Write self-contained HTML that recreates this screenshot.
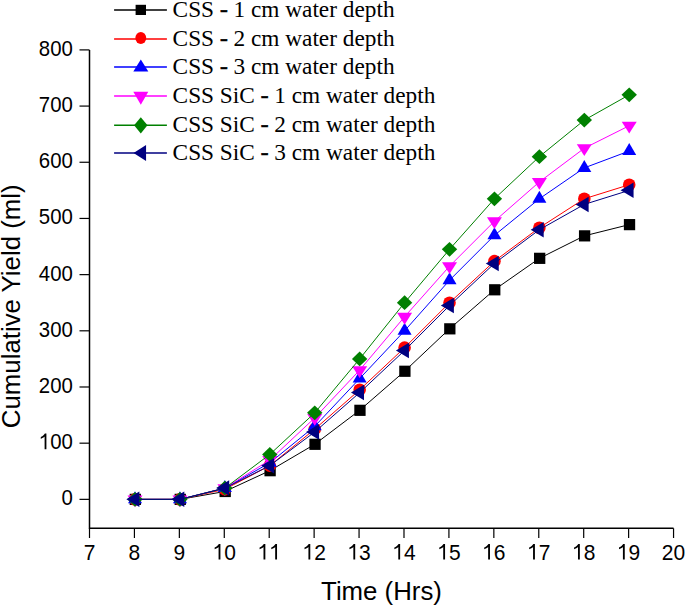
<!DOCTYPE html>
<html><head><meta charset="utf-8"><style>
html,body{margin:0;padding:0;background:#fff;width:685px;height:606px;overflow:hidden}
svg{display:block}
.t{font-family:"Liberation Sans",sans-serif;font-size:21px;fill:#000}
.ti{font-family:"Liberation Sans",sans-serif;font-size:25.8px;fill:#000}
.hy{stroke:#000;stroke-width:0.7px}
.lg{font-family:"Liberation Serif",serif;font-size:23.3px;fill:#000}
</style></head><body>
<svg width="685" height="606" viewBox="0 0 685 606">
<path d="M89.5,49.9 V528.3 H673.55" fill="none" stroke="#000" stroke-width="1.5"/>
<line x1="79.5" y1="499.36" x2="89.5" y2="499.36" stroke="#000" stroke-width="1.2"/>
<text transform="translate(61.47,505.36) scale(0.97,1.08)" class="t">0</text>
<line x1="79.5" y1="443.18" x2="89.5" y2="443.18" stroke="#000" stroke-width="1.2"/>
<path transform="translate(38.81,449.18) scale(0.00995,-0.01107)" d="M763,0 L583,0 L583,1147 Q518,1085 412,1023 Q306,961 200,925 L200,1100 Q363,1170 468,1262 Q573,1354 610,1409 L763,1409 Z"/><text transform="translate(50.14,449.18) scale(0.97,1.08)" class="t">0</text><text transform="translate(61.47,449.18) scale(0.97,1.08)" class="t">0</text>
<line x1="79.5" y1="386.99" x2="89.5" y2="386.99" stroke="#000" stroke-width="1.2"/>
<text transform="translate(38.81,392.99) scale(0.97,1.08)" class="t">2</text><text transform="translate(50.14,392.99) scale(0.97,1.08)" class="t">0</text><text transform="translate(61.47,392.99) scale(0.97,1.08)" class="t">0</text>
<line x1="79.5" y1="330.81" x2="89.5" y2="330.81" stroke="#000" stroke-width="1.2"/>
<text transform="translate(38.81,336.81) scale(0.97,1.08)" class="t">3</text><text transform="translate(50.14,336.81) scale(0.97,1.08)" class="t">0</text><text transform="translate(61.47,336.81) scale(0.97,1.08)" class="t">0</text>
<line x1="79.5" y1="274.63" x2="89.5" y2="274.63" stroke="#000" stroke-width="1.2"/>
<text transform="translate(38.81,280.63) scale(0.97,1.08)" class="t">4</text><text transform="translate(50.14,280.63) scale(0.97,1.08)" class="t">0</text><text transform="translate(61.47,280.63) scale(0.97,1.08)" class="t">0</text>
<line x1="79.5" y1="218.44" x2="89.5" y2="218.44" stroke="#000" stroke-width="1.2"/>
<text transform="translate(38.81,224.44) scale(0.97,1.08)" class="t">5</text><text transform="translate(50.14,224.44) scale(0.97,1.08)" class="t">0</text><text transform="translate(61.47,224.44) scale(0.97,1.08)" class="t">0</text>
<line x1="79.5" y1="162.26" x2="89.5" y2="162.26" stroke="#000" stroke-width="1.2"/>
<text transform="translate(38.81,168.26) scale(0.97,1.08)" class="t">6</text><text transform="translate(50.14,168.26) scale(0.97,1.08)" class="t">0</text><text transform="translate(61.47,168.26) scale(0.97,1.08)" class="t">0</text>
<line x1="79.5" y1="106.08" x2="89.5" y2="106.08" stroke="#000" stroke-width="1.2"/>
<text transform="translate(38.81,112.08) scale(0.97,1.08)" class="t">7</text><text transform="translate(50.14,112.08) scale(0.97,1.08)" class="t">0</text><text transform="translate(61.47,112.08) scale(0.97,1.08)" class="t">0</text>
<line x1="79.5" y1="49.90" x2="89.5" y2="49.90" stroke="#000" stroke-width="1.2"/>
<text transform="translate(38.81,55.90) scale(0.97,1.08)" class="t">8</text><text transform="translate(50.14,55.90) scale(0.97,1.08)" class="t">0</text><text transform="translate(61.47,55.90) scale(0.97,1.08)" class="t">0</text>
<line x1="89.50" y1="528.3" x2="89.50" y2="538" stroke="#000" stroke-width="1.2"/>
<text transform="translate(83.66,559.60) scale(1.0,1.08)" class="t">7</text>
<line x1="134.43" y1="528.3" x2="134.43" y2="538" stroke="#000" stroke-width="1.2"/>
<text transform="translate(128.59,559.60) scale(1.0,1.08)" class="t">8</text>
<line x1="179.35" y1="528.3" x2="179.35" y2="538" stroke="#000" stroke-width="1.2"/>
<text transform="translate(173.51,559.60) scale(1.0,1.08)" class="t">9</text>
<line x1="224.28" y1="528.3" x2="224.28" y2="538" stroke="#000" stroke-width="1.2"/>
<path transform="translate(212.60,559.60) scale(0.01025,-0.01107)" d="M763,0 L583,0 L583,1147 Q518,1085 412,1023 Q306,961 200,925 L200,1100 Q363,1170 468,1262 Q573,1354 610,1409 L763,1409 Z"/><text transform="translate(224.28,559.60) scale(1.0,1.08)" class="t">0</text>
<line x1="269.21" y1="528.3" x2="269.21" y2="538" stroke="#000" stroke-width="1.2"/>
<path transform="translate(257.53,559.60) scale(0.01025,-0.01107)" d="M763,0 L583,0 L583,1147 Q518,1085 412,1023 Q306,961 200,925 L200,1100 Q363,1170 468,1262 Q573,1354 610,1409 L763,1409 Z"/><path transform="translate(269.21,559.60) scale(0.01025,-0.01107)" d="M763,0 L583,0 L583,1147 Q518,1085 412,1023 Q306,961 200,925 L200,1100 Q363,1170 468,1262 Q573,1354 610,1409 L763,1409 Z"/>
<line x1="314.13" y1="528.3" x2="314.13" y2="538" stroke="#000" stroke-width="1.2"/>
<path transform="translate(302.46,559.60) scale(0.01025,-0.01107)" d="M763,0 L583,0 L583,1147 Q518,1085 412,1023 Q306,961 200,925 L200,1100 Q363,1170 468,1262 Q573,1354 610,1409 L763,1409 Z"/><text transform="translate(314.13,559.60) scale(1.0,1.08)" class="t">2</text>
<line x1="359.06" y1="528.3" x2="359.06" y2="538" stroke="#000" stroke-width="1.2"/>
<path transform="translate(347.38,559.60) scale(0.01025,-0.01107)" d="M763,0 L583,0 L583,1147 Q518,1085 412,1023 Q306,961 200,925 L200,1100 Q363,1170 468,1262 Q573,1354 610,1409 L763,1409 Z"/><text transform="translate(359.06,559.60) scale(1.0,1.08)" class="t">3</text>
<line x1="403.99" y1="528.3" x2="403.99" y2="538" stroke="#000" stroke-width="1.2"/>
<path transform="translate(392.31,559.60) scale(0.01025,-0.01107)" d="M763,0 L583,0 L583,1147 Q518,1085 412,1023 Q306,961 200,925 L200,1100 Q363,1170 468,1262 Q573,1354 610,1409 L763,1409 Z"/><text transform="translate(403.99,559.60) scale(1.0,1.08)" class="t">4</text>
<line x1="448.92" y1="528.3" x2="448.92" y2="538" stroke="#000" stroke-width="1.2"/>
<path transform="translate(437.24,559.60) scale(0.01025,-0.01107)" d="M763,0 L583,0 L583,1147 Q518,1085 412,1023 Q306,961 200,925 L200,1100 Q363,1170 468,1262 Q573,1354 610,1409 L763,1409 Z"/><text transform="translate(448.92,559.60) scale(1.0,1.08)" class="t">5</text>
<line x1="493.84" y1="528.3" x2="493.84" y2="538" stroke="#000" stroke-width="1.2"/>
<path transform="translate(482.16,559.60) scale(0.01025,-0.01107)" d="M763,0 L583,0 L583,1147 Q518,1085 412,1023 Q306,961 200,925 L200,1100 Q363,1170 468,1262 Q573,1354 610,1409 L763,1409 Z"/><text transform="translate(493.84,559.60) scale(1.0,1.08)" class="t">6</text>
<line x1="538.77" y1="528.3" x2="538.77" y2="538" stroke="#000" stroke-width="1.2"/>
<path transform="translate(527.09,559.60) scale(0.01025,-0.01107)" d="M763,0 L583,0 L583,1147 Q518,1085 412,1023 Q306,961 200,925 L200,1100 Q363,1170 468,1262 Q573,1354 610,1409 L763,1409 Z"/><text transform="translate(538.77,559.60) scale(1.0,1.08)" class="t">7</text>
<line x1="583.70" y1="528.3" x2="583.70" y2="538" stroke="#000" stroke-width="1.2"/>
<path transform="translate(572.02,559.60) scale(0.01025,-0.01107)" d="M763,0 L583,0 L583,1147 Q518,1085 412,1023 Q306,961 200,925 L200,1100 Q363,1170 468,1262 Q573,1354 610,1409 L763,1409 Z"/><text transform="translate(583.70,559.60) scale(1.0,1.08)" class="t">8</text>
<line x1="628.62" y1="528.3" x2="628.62" y2="538" stroke="#000" stroke-width="1.2"/>
<path transform="translate(616.94,559.60) scale(0.01025,-0.01107)" d="M763,0 L583,0 L583,1147 Q518,1085 412,1023 Q306,961 200,925 L200,1100 Q363,1170 468,1262 Q573,1354 610,1409 L763,1409 Z"/><text transform="translate(628.62,559.60) scale(1.0,1.08)" class="t">9</text>
<line x1="673.55" y1="528.3" x2="673.55" y2="538" stroke="#000" stroke-width="1.2"/>
<text transform="translate(661.87,559.60) scale(1.0,1.08)" class="t">2</text><text transform="translate(673.55,559.60) scale(1.0,1.08)" class="t">0</text>
<text x="381.5" y="600" text-anchor="middle" class="ti">Time (Hrs)</text>
<text transform="translate(19.8,306.3) rotate(-90)" text-anchor="middle" class="ti">Cumulative Yield (ml)</text>
<polyline points="135.03,499.36 179.95,499.36 224.88,491.49 269.81,470.71 314.74,444.30 359.66,410.31 404.59,371.26 449.52,328.84 494.44,289.80 539.37,258.33 584.30,235.86 629.22,224.63" fill="none" stroke="#000000" stroke-width="1.0"/>
<rect x="129.68" y="493.76" width="11.3" height="11.2" fill="#000000"/>
<rect x="174.60" y="493.76" width="11.3" height="11.2" fill="#000000"/>
<rect x="219.53" y="485.89" width="11.3" height="11.2" fill="#000000"/>
<rect x="264.46" y="465.11" width="11.3" height="11.2" fill="#000000"/>
<rect x="309.39" y="438.70" width="11.3" height="11.2" fill="#000000"/>
<rect x="354.31" y="404.71" width="11.3" height="11.2" fill="#000000"/>
<rect x="399.24" y="365.66" width="11.3" height="11.2" fill="#000000"/>
<rect x="444.17" y="323.24" width="11.3" height="11.2" fill="#000000"/>
<rect x="489.09" y="284.20" width="11.3" height="11.2" fill="#000000"/>
<rect x="534.02" y="252.73" width="11.3" height="11.2" fill="#000000"/>
<rect x="578.95" y="230.26" width="11.3" height="11.2" fill="#000000"/>
<rect x="623.87" y="219.03" width="11.3" height="11.2" fill="#000000"/>
<polyline points="135.03,499.36 179.95,499.36 224.88,489.25 269.81,465.65 314.74,429.13 359.66,389.80 404.59,347.67 449.52,302.72 494.44,261.14 539.37,227.72 584.30,198.78 629.22,184.74" fill="none" stroke="#ff0000" stroke-width="1.0"/>
<ellipse cx="135.03" cy="499.36" rx="6.3" ry="6.3" fill="#ff0000"/>
<ellipse cx="179.95" cy="499.36" rx="6.3" ry="6.3" fill="#ff0000"/>
<ellipse cx="224.88" cy="489.25" rx="6.3" ry="6.3" fill="#ff0000"/>
<ellipse cx="269.81" cy="465.65" rx="6.3" ry="6.3" fill="#ff0000"/>
<ellipse cx="314.74" cy="429.13" rx="6.3" ry="6.3" fill="#ff0000"/>
<ellipse cx="359.66" cy="389.80" rx="6.3" ry="6.3" fill="#ff0000"/>
<ellipse cx="404.59" cy="347.67" rx="6.3" ry="6.3" fill="#ff0000"/>
<ellipse cx="449.52" cy="302.72" rx="6.3" ry="6.3" fill="#ff0000"/>
<ellipse cx="494.44" cy="261.14" rx="6.3" ry="6.3" fill="#ff0000"/>
<ellipse cx="539.37" cy="227.72" rx="6.3" ry="6.3" fill="#ff0000"/>
<ellipse cx="584.30" cy="198.78" rx="6.3" ry="6.3" fill="#ff0000"/>
<ellipse cx="629.22" cy="184.74" rx="6.3" ry="6.3" fill="#ff0000"/>
<polyline points="135.03,499.36 179.95,499.36 224.88,488.12 269.81,462.84 314.74,426.32 359.66,378.57 404.59,330.81 449.52,280.25 494.44,235.30 539.37,198.78 584.30,167.88 629.22,151.03" fill="none" stroke="#0000ff" stroke-width="1.0"/>
<polygon points="135.03,491.36 142.03,503.36 128.03,503.36" fill="#0000ff"/>
<polygon points="179.95,491.36 186.95,503.36 172.95,503.36" fill="#0000ff"/>
<polygon points="224.88,480.12 231.88,492.12 217.88,492.12" fill="#0000ff"/>
<polygon points="269.81,454.84 276.81,466.84 262.81,466.84" fill="#0000ff"/>
<polygon points="314.74,418.32 321.74,430.32 307.74,430.32" fill="#0000ff"/>
<polygon points="359.66,370.57 366.66,382.57 352.66,382.57" fill="#0000ff"/>
<polygon points="404.59,322.81 411.59,334.81 397.59,334.81" fill="#0000ff"/>
<polygon points="449.52,272.25 456.52,284.25 442.52,284.25" fill="#0000ff"/>
<polygon points="494.44,227.30 501.44,239.30 487.44,239.30" fill="#0000ff"/>
<polygon points="539.37,190.78 546.37,202.78 532.37,202.78" fill="#0000ff"/>
<polygon points="584.30,159.88 591.30,171.88 577.30,171.88" fill="#0000ff"/>
<polygon points="629.22,143.03 636.22,155.03 622.22,155.03" fill="#0000ff"/>
<polyline points="135.03,499.36 179.95,499.36 224.88,488.12 269.81,460.03 314.74,417.89 359.66,370.14 404.59,316.77 449.52,266.20 494.44,221.25 539.37,181.93 584.30,148.22 629.22,125.74" fill="none" stroke="#ff00ff" stroke-width="1.0"/>
<polygon points="127.53,495.43 142.53,495.43 135.03,507.23" fill="#ff00ff"/>
<polygon points="172.45,495.43 187.45,495.43 179.95,507.23" fill="#ff00ff"/>
<polygon points="217.38,484.19 232.38,484.19 224.88,495.99" fill="#ff00ff"/>
<polygon points="262.31,456.10 277.31,456.10 269.81,467.90" fill="#ff00ff"/>
<polygon points="307.24,413.96 322.24,413.96 314.74,425.76" fill="#ff00ff"/>
<polygon points="352.16,366.21 367.16,366.21 359.66,378.01" fill="#ff00ff"/>
<polygon points="397.09,312.83 412.09,312.83 404.59,324.63" fill="#ff00ff"/>
<polygon points="442.02,262.27 457.02,262.27 449.52,274.07" fill="#ff00ff"/>
<polygon points="486.94,217.32 501.94,217.32 494.44,229.12" fill="#ff00ff"/>
<polygon points="531.87,177.99 546.87,177.99 539.37,189.79" fill="#ff00ff"/>
<polygon points="576.80,144.28 591.80,144.28 584.30,156.08" fill="#ff00ff"/>
<polygon points="621.72,121.81 636.72,121.81 629.22,133.61" fill="#ff00ff"/>
<polyline points="135.03,499.36 179.95,499.36 224.88,488.12 269.81,454.41 314.74,412.84 359.66,358.90 404.59,302.72 449.52,249.35 494.44,198.78 539.37,156.64 584.30,120.12 629.22,94.84" fill="none" stroke="#008000" stroke-width="1.0"/>
<polygon points="135.03,491.96 142.73,499.36 135.03,506.76 127.33,499.36" fill="#008000"/>
<polygon points="179.95,491.96 187.65,499.36 179.95,506.76 172.25,499.36" fill="#008000"/>
<polygon points="224.88,480.72 232.58,488.12 224.88,495.52 217.18,488.12" fill="#008000"/>
<polygon points="269.81,447.01 277.51,454.41 269.81,461.81 262.11,454.41" fill="#008000"/>
<polygon points="314.74,405.44 322.44,412.84 314.74,420.24 307.04,412.84" fill="#008000"/>
<polygon points="359.66,351.50 367.36,358.90 359.66,366.30 351.96,358.90" fill="#008000"/>
<polygon points="404.59,295.32 412.29,302.72 404.59,310.12 396.89,302.72" fill="#008000"/>
<polygon points="449.52,241.95 457.22,249.35 449.52,256.75 441.82,249.35" fill="#008000"/>
<polygon points="494.44,191.38 502.14,198.78 494.44,206.18 486.74,198.78" fill="#008000"/>
<polygon points="539.37,149.24 547.07,156.64 539.37,164.04 531.67,156.64" fill="#008000"/>
<polygon points="584.30,112.72 592.00,120.12 584.30,127.52 576.60,120.12" fill="#008000"/>
<polygon points="629.22,87.44 636.92,94.84 629.22,102.24 621.52,94.84" fill="#008000"/>
<polyline points="135.03,499.36 179.95,499.36 224.88,488.12 269.81,465.65 314.74,431.94 359.66,392.61 404.59,350.48 449.52,305.53 494.44,263.39 539.37,229.68 584.30,204.40 629.22,190.35" fill="none" stroke="#000080" stroke-width="1.0"/>
<polygon points="126.36,499.36 139.36,491.61 139.36,507.11" fill="#000080"/>
<polygon points="171.29,499.36 184.29,491.61 184.29,507.11" fill="#000080"/>
<polygon points="216.21,488.12 229.21,480.37 229.21,495.87" fill="#000080"/>
<polygon points="261.14,465.65 274.14,457.90 274.14,473.40" fill="#000080"/>
<polygon points="306.07,431.94 319.07,424.19 319.07,439.69" fill="#000080"/>
<polygon points="351.00,392.61 364.00,384.86 364.00,400.36" fill="#000080"/>
<polygon points="395.92,350.48 408.92,342.73 408.92,358.23" fill="#000080"/>
<polygon points="440.85,305.53 453.85,297.78 453.85,313.28" fill="#000080"/>
<polygon points="485.78,263.39 498.78,255.64 498.78,271.14" fill="#000080"/>
<polygon points="530.70,229.68 543.70,221.93 543.70,237.43" fill="#000080"/>
<polygon points="575.63,204.40 588.63,196.65 588.63,212.15" fill="#000080"/>
<polygon points="620.56,190.35 633.56,182.60 633.56,198.10" fill="#000080"/>
<line x1="114.1" y1="9.9" x2="166.9" y2="9.9" stroke="#000000" stroke-width="1.5"/>
<rect x="135.60" y="4.80" width="10.4" height="10.2" fill="#000000"/>
<text x="172.6" y="17.00" class="lg">CSS <tspan class="hy">-</tspan> 1 cm water depth</text>
<line x1="114.1" y1="39.1" x2="166.9" y2="39.1" stroke="#ff0000" stroke-width="1.5"/>
<ellipse cx="140.80" cy="38.00" rx="5.45" ry="6.0" fill="#ff0000"/>
<text x="172.6" y="46.20" class="lg">CSS <tspan class="hy">-</tspan> 2 cm water depth</text>
<line x1="114.1" y1="66.9" x2="166.9" y2="66.9" stroke="#0000ff" stroke-width="1.5"/>
<polygon points="140.80,59.60 148.30,71.60 133.30,71.60" fill="#0000ff"/>
<text x="172.6" y="74.00" class="lg">CSS <tspan class="hy">-</tspan> 3 cm water depth</text>
<line x1="114.1" y1="96.1" x2="166.9" y2="96.1" stroke="#ff00ff" stroke-width="1.5"/>
<polygon points="133.30,91.77 148.30,91.77 140.80,104.77" fill="#ff00ff"/>
<text x="172.6" y="103.20" class="lg">CSS SiC <tspan class="hy">-</tspan> 1 cm water depth</text>
<line x1="114.1" y1="125.3" x2="166.9" y2="125.3" stroke="#008000" stroke-width="1.5"/>
<polygon points="140.80,117.20 147.50,125.30 140.80,133.40 134.10,125.30" fill="#008000"/>
<text x="172.6" y="132.40" class="lg">CSS SiC <tspan class="hy">-</tspan> 2 cm water depth</text>
<line x1="114.1" y1="153.0" x2="166.9" y2="153.0" stroke="#000080" stroke-width="1.5"/>
<polygon points="133.57,153.00 146.07,145.00 146.07,161.00" fill="#000080"/>
<text x="172.6" y="160.10" class="lg">CSS SiC <tspan class="hy">-</tspan> 3 cm water depth</text>
</svg>
</body></html>
